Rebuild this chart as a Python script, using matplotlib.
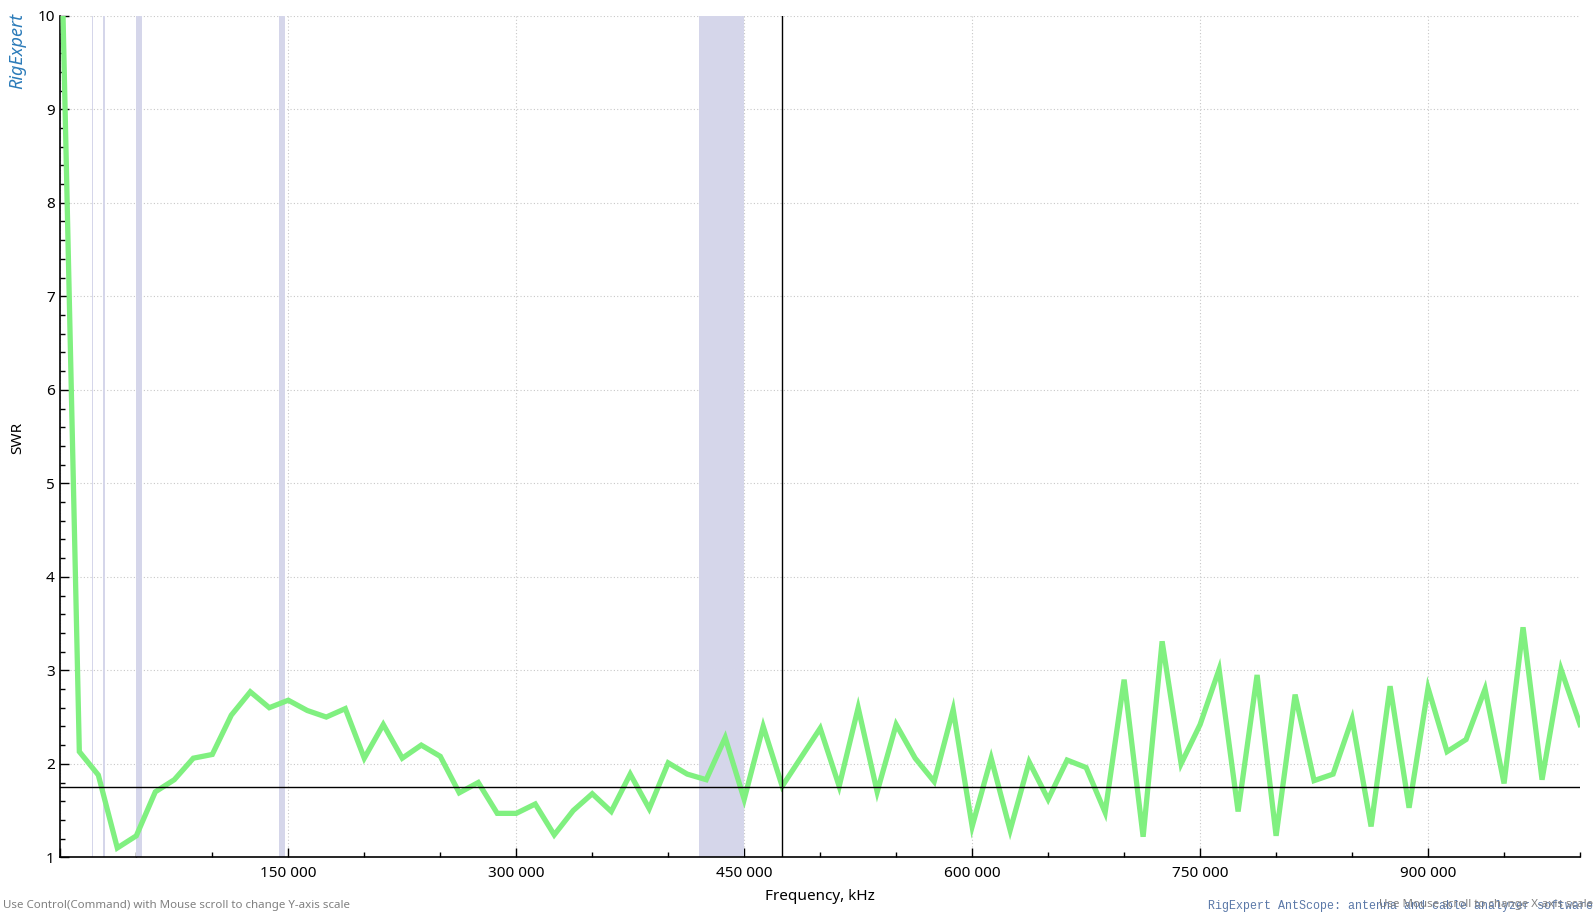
import numpy as np
import matplotlib
matplotlib.use("Agg")
import matplotlib.pyplot as plt
from matplotlib.ticker import MultipleLocator, FuncFormatter

plt.rcParams['font.family'] = ['Noto Sans', 'DejaVu Sans']

# sweep: 0 .. 1 000 000 kHz, 12 500 kHz step (81 points)
f_start = 0
f_stop = 1000000
f_step = 12500
freq = np.arange(f_start, f_stop + 1, f_step)

swr = [11.3, 2.13, 1.88, 1.10, 1.23, 1.70, 1.83, 2.06, 2.10, 2.52,
       2.77, 2.60, 2.68, 2.57, 2.50, 2.59, 2.06, 2.42, 2.06, 2.20,
       2.08, 1.69, 1.80, 1.47, 1.47, 1.57, 1.24, 1.50, 1.68, 1.49,
       1.89, 1.52, 2.01, 1.89, 1.83, 2.28, 1.62, 2.40, 1.76, 2.07,
       2.38, 1.76, 2.60, 1.70, 2.42, 2.06, 1.81, 2.58, 1.33, 2.06,
       1.29, 2.02, 1.62, 2.04, 1.96, 1.48, 2.90, 1.22, 3.31, 2.00,
       2.42, 3.01, 1.49, 2.95, 1.23, 2.74, 1.82, 1.89, 2.48, 1.33,
       2.83, 1.53, 2.81, 2.13, 2.26, 2.80, 1.79, 3.46, 1.83, 3.01,
       2.42]

# amateur bands, kHz
bands = [(1810, 2000), (3500, 3800), (7000, 7200), (10100, 10150),
         (14000, 14350), (18068, 18168), (21000, 21450), (24890, 24990),
         (28000, 29700), (50000, 54000), (144000, 148000), (420000, 450000)]

marker_freq = 475000
swr_limit = 1.75

fig = plt.figure(figsize=(15.96, 9.13), dpi=100)
ax = fig.add_axes([0.0378, 0.0610, 0.990 - 0.0378, 0.9827 - 0.0610])

for lo, hi in bands:
    ax.axvspan(lo, hi, color='#d5d6ea', lw=0, zorder=1)

ax.plot(freq, swr, color='#80f080', lw=3.8, zorder=3, solid_joinstyle='miter')

ax.axvline(marker_freq, color='black', lw=1.0, zorder=4)
ax.axhline(swr_limit, color='black', lw=1.0, zorder=4)

ax.set_xlim(0, 1000000)
ax.set_ylim(1, 10)

ax.xaxis.set_major_locator(MultipleLocator(150000))
ax.xaxis.set_minor_locator(MultipleLocator(50000))
ax.xaxis.set_major_formatter(FuncFormatter(
    lambda v, p: '' if v <= 0 else f"{int(round(v)):,}".replace(",", " ")))
ax.yaxis.set_major_locator(MultipleLocator(1))
ax.yaxis.set_minor_locator(MultipleLocator(0.2))

ax.grid(True, which='major', color='#c8c8c8', ls=(0, (1, 2)), lw=0.8, zorder=0)
ax.set_axisbelow(True)

ax.tick_params(which='major', direction='in', length=6.5, width=1, labelsize=11,
               colors='black')
ax.tick_params(which='minor', direction='in', length=3.5, width=1)
ax.tick_params(axis='x', pad=6)
ax.tick_params(axis='y', pad=4)

for s in ['top', 'right']:
    ax.spines[s].set_visible(False)
for s in ['left', 'bottom']:
    ax.spines[s].set_linewidth(1.2)

fig.text(820 / 1596, 1 - 896 / 913, 'Frequency, kHz', ha='center', va='center',
         fontsize=11)
fig.text(18 / 1596, 1 - 438 / 913, 'SWR', ha='center', va='center',
         rotation=90, fontsize=11)

fig.text(17 / 1596, 1 - 51 / 913, 'RigExpert', ha='center', va='center',
         rotation=90, fontsize=13, style='italic', color='#2b7bb9')

fig.text(3 / 1596, 1 - 905 / 913,
         'Use Control(Command) with Mouse scroll to change Y-axis scale',
         ha='left', va='center', fontsize=8.3, color='#808080')
fig.text(1593 / 1596, 1 - 906 / 913,
         'RigExpert AntScope: antenna and cable analyzer software',
         ha='right', va='center', fontsize=8.4, color='#5a78a8',
         family='Liberation Mono')
fig.text(1593 / 1596, 1 - 904 / 913,
         'Use Mouse scroll to change X-axis scale',
         ha='right', va='center', fontsize=8.3, color='#808080')

fig.savefig('out.png', dpi=100)
